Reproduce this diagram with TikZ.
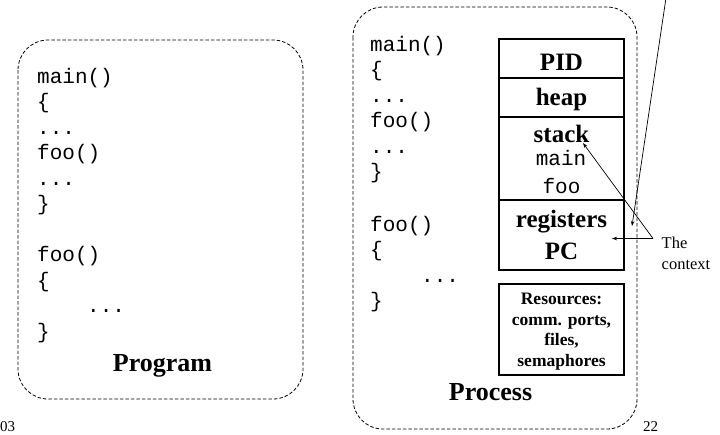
\documentclass[tikz,border=0pt]{standalone}
\usepackage{fontspec}
\setmainfont{Liberation Serif}
\setmonofont{Liberation Mono}
\usetikzlibrary{arrows.meta}

% three literal dots (kept out of \foreach lists, where "..." means a range)
\newcommand\tridots{.{}.{}.}

\tikzset{
  frame/.style={draw, line width=0.8pt, dash pattern=on 3.5pt off 2pt, rounded corners=30pt},
  code/.style={anchor=base west, inner sep=0pt, font=\ttfamily\fontsize{21}{25}\selectfont},
  stackcode/.style={anchor=base, inner sep=0pt, font=\ttfamily\fontsize{21}{25}\selectfont},
  caption/.style={anchor=base, inner sep=0pt, font=\bfseries\fontsize{26}{30}\selectfont},
  cell/.style={draw, line width=1.2pt, minimum width=125pt, inner sep=0pt},
  celltext/.style={anchor=base, inner sep=0pt, font=\bfseries\fontsize{25}{30}\selectfont},
  restext/.style={anchor=base, inner sep=0pt, font=\bfseries\fontsize{17.5}{23}\selectfont},
  note/.style={anchor=base west, inner sep=0pt, font=\fontsize{16.5}{20}\selectfont},
  pagenum/.style={anchor=base west, inner sep=0pt, font=\fontsize{15}{18}\selectfont},
  ptr/.style={line width=0.7pt, -{Stealth[length=5pt,width=3.5pt]}}
}

\begin{document}
\begin{tikzpicture}[x=1pt, y=-1pt]
\useasboundingbox (0,0) rectangle (720,434);

% ---- program (left) ----
\draw[frame] (18,40) rectangle (303,399);
\foreach \x/\y/\t [count=\i] in {
  37/83/main(), 37/108.5/\{, 37/134/\tridots, 37/159.5/foo(), 37/185/\tridots,
  37/210.5/\}, 37/261.5/foo(), 37/287/\{, 87/312.5/\tridots, 37/338/\}}
  \node[code] (pl\i) at (\x,\y) {\t};
\node[caption] (program) at (162.5,371) {Program};

% ---- process (right) ----
\draw[frame] (353,7) rectangle (637,429);
\foreach \x/\y/\t [count=\i] in {
  370/51/main(), 370/76.5/\{, 370/102/\tridots, 370/127.5/foo(), 370/153/\tridots,
  370/178.5/\}, 370/231/foo(), 370/256.5/\{, 421/282/\tridots, 370/307.5/\}}
  \node[code] (pr\i) at (\x,\y) {\t};

% process image: stacked cells
\node[cell, minimum height=39pt] (pidcell)   at (561.5,58.5) {};
\node[cell, minimum height=39pt] (heapcell)  at (561.5,97.5) {};
\node[cell, minimum height=83pt] (stackcell) at (561.5,158.5) {};
\node[cell, minimum height=70pt] (regcell)   at (561.5,235) {};
\node[cell, minimum height=91pt] (rescell)   at (561.5,329.5) {};

\node[celltext] (pid)   at (561.5,70)  {PID};
\node[celltext] (heap)  at (561.5,105.5) {heap};
\node[celltext] (stack) at (561.5,142) {stack};
\node[stackcode] (smain) at (561,165.5) {main};
\node[stackcode] (sfoo)  at (561.5,193) {foo};
\node[celltext] (regs)  at (561.5,227.5) {registers};
\node[celltext] (pc)    at (561.5,259) {PC};

\node[restext] (r1) at (561.5,304.5) {Resources:};
\node[restext] (r2) at (561.5,325)   {comm. ports,};
\node[restext] (r3) at (561.5,345.5) {files,};
\node[restext] (r4) at (561.5,366)   {semaphores};

\node[caption] (process) at (490.5,400) {Process};

% ---- the context ----
\node[note] (the) at (661.5,248) {The};
\node[note] (context) at (661.5,269) {context};

\coordinate (ctx) at (653,238.5);
\coordinate (stacktip) at (583,143);
\coordinate (regtip) at (612,238.5);
\coordinate (fromtop) at (666,-2);
\coordinate (toptip) at (632,226);

\draw[ptr] (ctx) -- (stacktip);
\draw[ptr] (ctx) -- (regtip);
\draw[ptr] (fromtop) -- (toptip);

% ---- page numbers ----
\node[pagenum] (pgl) at (0,431) {03};
\node[pagenum] (pgr) at (643,431) {22};
\end{tikzpicture}
\end{document}
